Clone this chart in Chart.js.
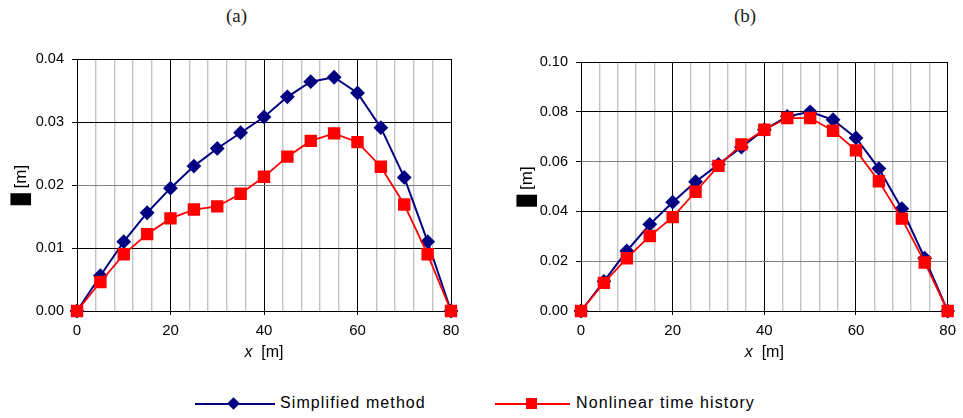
<!DOCTYPE html>
<html>
<head>
<meta charset="utf-8">
<script src="https://cdn.jsdelivr.net/npm/chart.js@4.4.0/dist/chart.umd.min.js"></script>
<style>
  body { margin: 0; background: #fff; width: 963px; height: 418px; position: relative; overflow: hidden; font-family: 'Liberation Sans', Arial, sans-serif; }
  .panel { position: absolute; top: 0; height: 380px; }
  #wrapA { left: 0; width: 480px; }
  #wrapB { left: 490px; width: 473px; }
  .tag { position: absolute; top: 5px; font-family: 'Liberation Serif', serif; font-size: 19px; color: #222; }
  .leg-line { position: absolute; height: 2px; }
  .leg-mark { position: absolute; }
  .leg-text { position: absolute; top: 394px; font-size: 16px; letter-spacing: 1.1px; color: #000; }
</style>
</head>
<body>
<div class="tag" style="left:226px">(a)</div>
<div class="tag" style="left:734px">(b)</div>
<div class="panel" id="wrapA"><canvas id="chartA"></canvas></div>
<div class="panel" id="wrapB"><canvas id="chartB"></canvas></div>

<div class="leg-line" style="left:195px; width:80px; top:403px; background:#000080"></div>
<div class="leg-mark" style="left:229px; top:399px; width:9px; height:9px; background:#000080; transform:rotate(45deg)"></div>
<div class="leg-text" id="legA" style="left:280px"></div>
<div class="leg-line" style="left:495px; width:75px; top:403px; background:#ff0000"></div>
<div class="leg-mark" style="left:526px; top:398px; width:11px; height:11px; background:#ff0000"></div>
<div class="leg-text" id="legB" style="left:576px"></div>

<script>
// x positions along the span [m]
const xPos = [0, 5, 10, 15, 20, 25, 30, 35, 40, 45, 50, 55, 60, 65, 70, 75, 80];

// (a) displacements [m]
const simplifiedA = [0, 0.0056, 0.0110, 0.0156, 0.0195, 0.0230, 0.0258, 0.0283, 0.0308, 0.0340, 0.0364, 0.0371, 0.0346, 0.0291, 0.0212, 0.0110, 0];
const nonlinearA = [0, 0.0046, 0.0090, 0.0122, 0.0147, 0.0161, 0.0166, 0.0186, 0.0213, 0.0245, 0.0270, 0.0282, 0.0268, 0.0229, 0.0169, 0.0090, 0];

// (b) displacements [m]
const simplifiedB = [0, 0.0119, 0.0241, 0.0348, 0.0437, 0.0519, 0.0589, 0.0658, 0.0728, 0.0781, 0.0800, 0.0768, 0.0695, 0.0572, 0.0411, 0.0212, 0];
const nonlinearB = [0, 0.0113, 0.0212, 0.0301, 0.0377, 0.0479, 0.0583, 0.0669, 0.0728, 0.0775, 0.0775, 0.0724, 0.0645, 0.0521, 0.0371, 0.0195, 0];

const seriesNames = ['Simplified method', 'Nonlinear time history'];
const xTitleVar = 'x';
const xTitleUnit = '  [m]';
const yTitle = '\u2588 [m]';

document.getElementById('legA').textContent = seriesNames[0];
document.getElementById('legB').textContent = seriesNames[1];

const toPoints = (ys) => xPos.map((x, i) => ({ x: x, y: ys[i] }));

// draws the x title (italic x) and the rotated y title
const axisTitles = {
    id: 'axisTitles',
    afterDraw(chart, args, opts) {
        const { ctx, chartArea } = chart;
        ctx.save();
        ctx.fillStyle = '#000';
        ctx.textBaseline = 'middle';
        const cx = (chartArea.left + chartArea.right) / 2;
        const y = chartArea.bottom + 42;
        ctx.font = 'italic 16px "Liberation Sans"';
        const w1 = ctx.measureText(xTitleVar).width;
        ctx.font = '16px "Liberation Sans"';
        const w2 = ctx.measureText(xTitleUnit).width;
        const x0 = cx - (w1 + w2) / 2;
        ctx.textAlign = 'left';
        ctx.font = 'italic 16px "Liberation Sans"';
        ctx.fillText(xTitleVar, x0, y);
        ctx.font = '16px "Liberation Sans"';
        ctx.fillText(xTitleUnit, x0 + w1, y);

        ctx.translate(opts.yX, (chartArea.top + chartArea.bottom) / 2);
        ctx.rotate(-Math.PI / 2);
        ctx.textAlign = 'center';
        ctx.font = '17px "Liberation Sans"';
        ctx.fillText(yTitle, 0, 0);
        ctx.restore();
    }
};

function makeChart(id, simp, nonl, yMax, yStep, grayRows, pad, yWidth, yTitleX) {
    const ctx = document.getElementById(id).getContext('2d');
    return new Chart(ctx, {
        type: 'line',
        data: {
            datasets: [{
                label: seriesNames[0],
                data: toPoints(simp),
                borderColor: '#000080',
                backgroundColor: '#000080',
                borderWidth: 2,
                pointStyle: 'rectRot',
                pointRadius: 6,
                pointHoverRadius: 6,
                tension: 0,
                order: 1,
                clip: false
            }, {
                label: seriesNames[1],
                data: toPoints(nonl),
                borderColor: '#ff0000',
                backgroundColor: '#ff0000',
                borderWidth: 1.8,
                pointStyle: 'rect',
                pointRadius: 7.5,
                pointHoverRadius: 7.5,
                tension: 0,
                order: 0,
                clip: false
            }]
        },
        options: {
            responsive: true,
            maintainAspectRatio: false,
            animation: false,
            layout: { padding: pad },
            plugins: {
                legend: { display: false },
                tooltip: { enabled: false },
                axisTitles: { yX: yTitleX }
            },
            scales: {
                x: {
                    type: 'linear',
                    min: 0,
                    max: 80,
                    afterFit: (scale) => { scale.height = 69; },
                    ticks: {
                        stepSize: 4,
                        autoSkip: false,
                        maxRotation: 0,
                        padding: 7,
                        color: '#000',
                        font: { family: 'Liberation Sans', size: 15 },
                        callback: (v) => (v % 20 === 0 ? String(v) : '')
                    },
                    grid: {
                        color: (c) => (c.tick && c.tick.value % 20 === 0 ? '#000' : '#c4c4c4'),
                        lineWidth: (c) => (c.tick && c.tick.value % 20 === 0 ? 1 : 1.4),
                        tickColor: (c) => (c.tick && c.tick.value % 20 === 0 ? '#000' : 'rgba(0,0,0,0)'),
                        tickLength: 4
                    },
                    border: { color: '#000', width: 1 }
                },
                y: {
                    min: 0,
                    max: yMax,
                    afterFit: (scale) => { scale.width = yWidth; },
                    ticks: {
                        stepSize: yStep,
                        padding: 8,
                        color: '#000',
                        font: { family: 'Liberation Sans', size: 14.5 },
                        callback: (v) => v.toFixed(2)
                    },
                    grid: {
                        color: (c) => (c.tick && grayRows.some((g) => Math.abs(g - c.tick.value) < 1e-9) ? '#808080' : '#000'),
                        tickColor: '#000',
                        tickLength: 5
                    },
                    border: { color: '#000', width: 1 }
                }
            }
        },
        plugins: [axisTitles]
    });
}

makeChart('chartA', simplifiedA, nonlinearA, 0.04, 0.01, [0.02],
    { left: 0, top: 59, right: 29, bottom: 0 }, 77, 21);
makeChart('chartB', simplifiedB, nonlinearB, 0.10, 0.02, [0.02, 0.06],
    { left: 0, top: 62, right: 8, bottom: 0 }, 91, 37);
</script>
</body>
</html>
